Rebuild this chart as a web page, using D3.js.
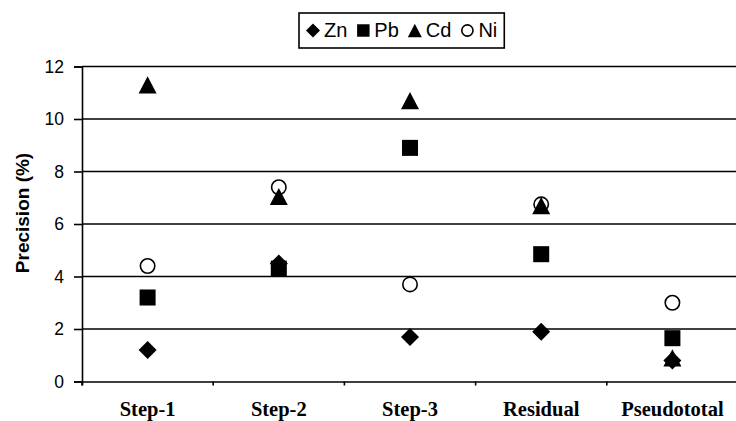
<!DOCTYPE html>
<html><head><meta charset="utf-8">
<script src="https://cdn.jsdelivr.net/npm/d3@7"></script>
<style>body{margin:0;background:#fff}svg{display:block}</style>
</head><body><svg id="c" width="736" height="421"></svg>
<script>
const categories = ["Step-1", "Step-2", "Step-3", "Residual", "Pseudototal"];
const seriesNames = ["Zn", "Pb", "Cd", "Ni"];
const zn = [1.2, 4.5, 1.7, 1.9, 0.8];
const pb = [3.2, 4.3, 8.9, 4.85, 1.65];
const cd = [11.3, 7.05, 10.7, 6.7, 0.9];
const ni = [4.4, 7.4, 3.7, 6.75, 3.0];
const yTicks = [0, 2, 4, 6, 8, 10, 12];

const svg = d3.select("#c");
const x = d3.scaleBand().domain(categories).range([82, 738]);
const y = d3.scaleLinear().domain([0, 12]).range([381.5, 66.5]);

// gridlines
svg.append("g").selectAll("line").data(yTicks.filter(d => d > 0)).join("line")
  .attr("x1", 82).attr("x2", 736).attr("y1", d => y(d)).attr("y2", d => y(d))
  .attr("stroke", "#000").attr("stroke-width", 1.6);

// y axis
const yAxis = svg.append("g").attr("transform", "translate(82,0)")
  .call(d3.axisLeft(y).tickValues(yTicks).tickSize(8).tickPadding(10).tickFormat(d3.format("d")));
yAxis.select(".domain").attr("stroke-width", 1.6);
yAxis.selectAll(".tick line").attr("stroke-width", 1.6);
yAxis.selectAll("text").attr("font-family", "Liberation Sans, Arial, sans-serif").attr("font-size", 17.5).attr("fill", "#000");

// x axis
const xAxis = svg.append("g").attr("transform", "translate(0,381.5)")
  .call(d3.axisBottom(x).tickSize(4).tickSizeOuter(4).tickFormat(""));
xAxis.select(".domain").attr("stroke-width", 1.6);
xAxis.selectAll(".tick line").attr("transform", `translate(${-x.bandwidth()/2},0)`).attr("stroke-width", 1.6);
svg.append("g").selectAll("text").data(categories).join("text")
  .attr("x", d => x(d) + x.bandwidth()/2).attr("y", 415.5)
  .attr("text-anchor", "middle")
  .attr("font-family", "Liberation Serif, Times New Roman, serif").attr("font-weight", "bold").attr("font-size", 20.5)
  .text(d => d);

// y title
svg.append("text").attr("transform", "translate(29,213) rotate(-90)")
  .attr("text-anchor", "middle").attr("font-family", "Liberation Sans, Arial, sans-serif")
  .attr("font-weight", "bold").attr("font-size", 19).text("Precision (%)");

// marker shapes
function marker(sel, name, s) {
  if (name === "Zn") {
    sel.append("path").attr("d", `M0,${-s}L${s},0L0,${s}L${-s},0Z`).attr("fill", "#000");
  } else if (name === "Pb") {
    sel.append("rect").attr("x", -s*0.89).attr("y", -s*0.89).attr("width", s*1.78).attr("height", s*1.78).attr("fill", "#000");
  } else if (name === "Cd") {
    sel.append("path").attr("d", `M0,${-s*0.95}L${s},${s*0.95}L${-s},${s*0.95}Z`).attr("fill", "#000");
  } else {
    sel.append("circle").attr("r", s*0.8).attr("fill", "none").attr("stroke", "#000").attr("stroke-width", 1.6);
  }
}

const seriesData = [zn, pb, cd, ni];
seriesNames.forEach((name, i) => {
  const g = svg.append("g");
  seriesData[i].forEach((v, j) => {
    const m = g.append("g").attr("transform", `translate(${x(categories[j]) + x.bandwidth()/2},${y(v)})`);
    marker(m, name, 9);
  });
});

// legend
const leg = svg.append("g");
const box = leg.append("rect").attr("x", 299).attr("y", 13).attr("height", 35)
  .attr("fill", "#fff").attr("stroke", "#000").attr("stroke-width", 1.6);
let lx = 306;
seriesNames.forEach((name) => {
  const s = 7;
  const m = leg.append("g").attr("transform", `translate(${lx + s},30.5)`);
  marker(m, name, s);
  const t = leg.append("text").attr("x", lx + 2*s + 4).attr("y", 37)
    .attr("font-family", "Liberation Sans, Arial, sans-serif").attr("font-size", 20).text(name);
  lx = lx + 2*s + 4 + t.node().getComputedTextLength() + 9;
});
box.attr("width", lx - 299 - 2);
</script></body></html>
